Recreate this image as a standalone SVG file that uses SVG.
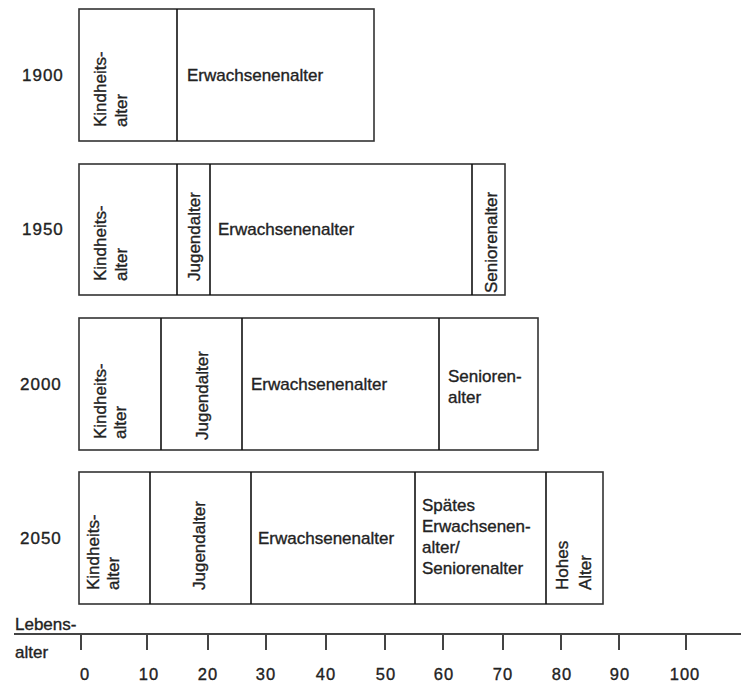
<svg xmlns="http://www.w3.org/2000/svg" width="741" height="682" viewBox="0 0 741 682">
<style>
text{font-family:"Liberation Sans",Arial,sans-serif;font-size:17px;fill:#222;stroke:#222;stroke-width:0.35px}
.yr{letter-spacing:1px}
.num{letter-spacing:1px;text-anchor:middle;font-size:16.5px}
.box{fill:#fff;stroke:#333;stroke-width:1.6}
.div{stroke:#111;stroke-width:1.6}
.axis{stroke:#444;stroke-width:2}
</style>
<rect width="741" height="682" fill="#fff"/>

<g id="row1900">
<text class="yr" x="22" y="81">1900</text>
<rect class="box" x="79" y="9" width="295" height="132"/>
<line class="div" x1="177" y1="9" x2="177" y2="141"/>
<text transform="translate(106,127) rotate(-90)">Kindheits-</text>
<text transform="translate(127,127) rotate(-90)">alter</text>
<text x="187" y="81">Erwachsenenalter</text>
</g>

<g id="row1950">
<text class="yr" x="22" y="235">1950</text>
<rect class="box" x="79" y="164" width="426" height="131"/>
<line class="div" x1="177" y1="164" x2="177" y2="295"/>
<line class="div" x1="210" y1="164" x2="210" y2="295"/>
<line class="div" x1="472" y1="164" x2="472" y2="295"/>
<text transform="translate(106,281) rotate(-90)">Kindheits-</text>
<text transform="translate(127,281) rotate(-90)">alter</text>
<text transform="translate(200,281) rotate(-90)">Jugendalter</text>
<text x="218" y="235">Erwachsenenalter</text>
<text transform="translate(497,293) rotate(-90)">Seniorenalter</text>
</g>

<g id="row2000">
<text class="yr" x="20" y="390">2000</text>
<rect class="box" x="79" y="318" width="459" height="132"/>
<line class="div" x1="161" y1="318" x2="161" y2="450"/>
<line class="div" x1="242" y1="318" x2="242" y2="450"/>
<line class="div" x1="439" y1="318" x2="439" y2="450"/>
<text transform="translate(106,439) rotate(-90)">Kindheits-</text>
<text transform="translate(126,439) rotate(-90)">alter</text>
<text transform="translate(208,440) rotate(-90)">Jugendalter</text>
<text x="251" y="390">Erwachsenenalter</text>
<text x="448" y="382">Senioren-</text>
<text x="448" y="403">alter</text>
</g>

<g id="row2050">
<text class="yr" x="20" y="544">2050</text>
<rect class="box" x="79" y="472" width="524" height="132"/>
<line class="div" x1="150" y1="472" x2="150" y2="604"/>
<line class="div" x1="251" y1="472" x2="251" y2="604"/>
<line class="div" x1="415" y1="472" x2="415" y2="604"/>
<line class="div" x1="546" y1="472" x2="546" y2="604"/>
<text transform="translate(99,590) rotate(-90)">Kindheits-</text>
<text transform="translate(119,590) rotate(-90)">alter</text>
<text transform="translate(205,590) rotate(-90)">Jugendalter</text>
<text x="258" y="544">Erwachsenenalter</text>
<text x="422" y="511">Spätes</text>
<text x="422" y="532">Erwachsenen-</text>
<text x="422" y="553">alter/</text>
<text x="422" y="574">Seniorenalter</text>
<text transform="translate(568,590) rotate(-90)">Hohes</text>
<text transform="translate(591,590) rotate(-90)">Alter</text>
</g>

<g id="axis">
<text x="15" y="630">Lebens-</text>
<text x="15" y="658">alter</text>
<line class="axis" x1="14" y1="634" x2="741" y2="634"/>
<g class="axis">
<line x1="81" y1="634" x2="81" y2="650"/>
<line x1="147" y1="634" x2="147" y2="650"/>
<line x1="208" y1="634" x2="208" y2="650"/>
<line x1="266" y1="634" x2="266" y2="650"/>
<line x1="326" y1="634" x2="326" y2="650"/>
<line x1="385" y1="634" x2="385" y2="650"/>
<line x1="443" y1="634" x2="443" y2="650"/>
<line x1="503" y1="634" x2="503" y2="650"/>
<line x1="561" y1="634" x2="561" y2="650"/>
<line x1="619" y1="634" x2="619" y2="650"/>
<line x1="686" y1="634" x2="686" y2="650"/>
</g>
<text class="num" x="85" y="680">0</text>
<text class="num" x="149" y="680">10</text>
<text class="num" x="208" y="680">20</text>
<text class="num" x="266" y="680">30</text>
<text class="num" x="326" y="680">40</text>
<text class="num" x="386" y="680">50</text>
<text class="num" x="444" y="680">60</text>
<text class="num" x="503" y="680">70</text>
<text class="num" x="562" y="680">80</text>
<text class="num" x="620" y="680">90</text>
<text class="num" x="685" y="680">100</text>
</g>
</svg>
